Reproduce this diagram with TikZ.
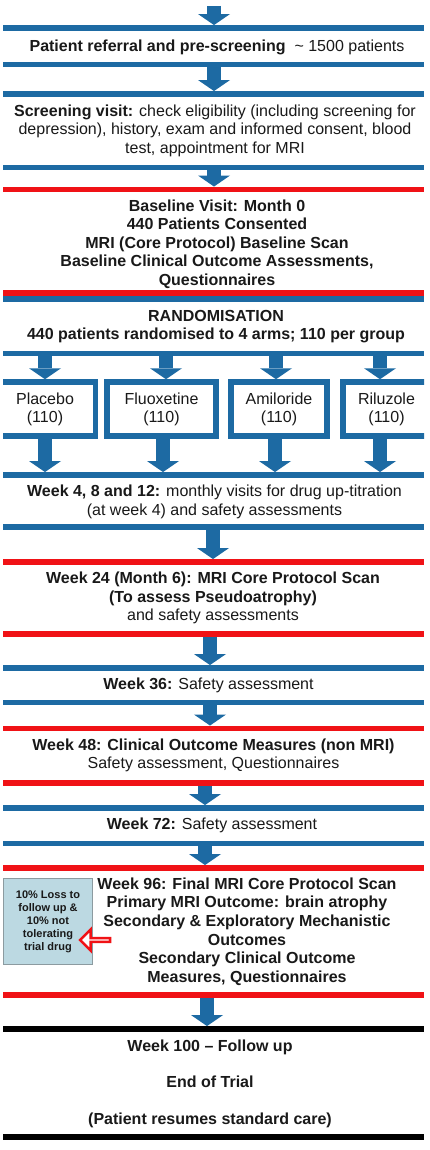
\documentclass[tikz,border=0pt]{standalone}
\usepackage{fontspec}
\setmainfont{Liberation Sans}
\usetikzlibrary{arrows.meta,shapes.arrows}
\definecolor{tblue}{RGB}{29,106,163}
\definecolor{tred}{RGB}{240,18,22}
\definecolor{tink}{RGB}{25,25,25}
\definecolor{lossfill}{RGB}{188,217,226}
\definecolor{lossedge}{RGB}{140,155,160}
\begin{document}
\begin{tikzpicture}[x=1pt,y=-1pt,
  rule/.style={rectangle,inner sep=0pt,minimum width=421pt,minimum height=5.5pt},
  brule/.style={rule,fill=tblue},
  rrule/.style={rule,fill=tred},
  krule/.style={rule,fill=black},
  txt/.style={align=center,text=tink,inner sep=0pt,font=\fontsize{16}{18.6}\selectfont},
  txtb/.style={align=center,text=tink,inner sep=0pt,font=\bfseries\fontsize{16}{18.6}\selectfont},
  barrow/.style={draw=tblue,line width=14pt,-{Triangle[width=32pt,length=11pt,line width=0pt]}},
  arm/.style={draw=tblue,line width=5.5pt,fill=white,rectangle,minimum height=54pt,inner sep=0pt,align=center,text=tink,font=\fontsize{16}{18}\selectfont},
  lossbox/.style={draw=lossedge,fill=lossfill,line width=1.5pt,minimum width=89pt,minimum height=86pt,inner sep=0pt,align=center,text=tink,font=\bfseries\fontsize{11}{13}\selectfont},
  hollowarrow/.style={single arrow,shape border rotate=180,draw=tred,fill=white,line width=2.5pt,minimum height=30pt,minimum width=21pt,single arrow head extend=6pt,inner sep=0pt}
]
\useasboundingbox (0,0) rectangle (429,1150);
\fill[white] (0,0) rectangle (429,1150);

% rules and texts
\coordinate (top) at (214,6);
\node[brule] (b1) at (213.5,28) {};
\node[txt] (t1) at (217,47) {\textbf{Patient referral and pre-screening}\ \ \textasciitilde\ 1500 patients};
\node[brule] (b2) at (213.5,64.5) {};
\node[brule] (b3) at (213.5,94) {};
\node[txt] (t2) at (215,130.5) {\textbf{Screening visit:} check eligibility (including screening for\\ depression), history, exam and informed consent, blood\\ test, appointment for MRI};
\node[brule] (b4) at (213.5,167.5) {};
\node[rrule] (r1) at (213.5,189.5) {};
\node[txtb] (t3) at (217,244) {Baseline Visit: Month 0\\ 440 Patients Consented\\ MRI (Core Protocol) Baseline Scan\\ Baseline Clinical Outcome Assessments,\\ Questionnaires};
\node[rrule] (r2) at (213.5,293) {};
\node[brule] (b5) at (213.5,299) {};
\node[txtb] (t4) at (216,326.5) {RANDOMISATION\\ 440 patients randomised to 4 arms; 110 per group};
\node[brule] (b6) at (213.5,353.5) {};

\begin{scope}
\clip (3,0) rectangle (424,1150);
\node[arm,minimum width=101pt] (placebo) at (45,409) {Placebo\\(110)};
\node[arm,minimum width=109pt] (fluox) at (161.5,409) {Fluoxetine\\(110)};
\node[arm,minimum width=96pt] (amil) at (279,409) {Amiloride\\(110)};
\node[arm,minimum width=87pt] (rilu) at (386.5,409) {Riluzole\\(110)};
\end{scope}

\node[brule] (b7) at (213.5,475) {};
\node[txt] (t5) at (214.5,502) {\textbf{Week 4, 8 and 12:} monthly visits for drug up-titration\\ (at week 4) and safety assessments};
\node[brule] (b8) at (213.5,527) {};
\node[rrule] (r3) at (213.5,562) {};
\node[txt] (t6) at (213,598) {\textbf{Week 24 (Month 6): MRI Core Protocol Scan}\\ \textbf{(To assess Pseudoatrophy)}\\ and safety assessments};
\node[rrule] (r4) at (213.5,634) {};
\node[brule] (b9) at (213.5,668) {};
\node[txt] (t7) at (208.5,685) {\textbf{Week 36:} Safety assessment};
\node[brule] (b10) at (213.5,702.5) {};
\node[rrule] (r5) at (213.5,728.5) {};
\node[txt] (t8) at (213.5,755.5) {\textbf{Week 48: Clinical Outcome Measures (non MRI)}\\ Safety assessment, Questionnaires};
\node[rrule] (r6) at (213.5,783) {};
\node[brule] (b11) at (213.5,808) {};
\node[txt] (t9) at (212,825) {\textbf{Week 72:} Safety assessment};
\node[brule] (b12) at (213.5,843.5) {};
\node[rrule] (r7) at (213.5,868) {};
\node[txtb] (t10) at (247,931.5) {Week 96: Final MRI Core Protocol Scan\\ Primary MRI Outcome: brain atrophy\\ Secondary \& Exploratory Mechanistic\\ Outcomes\\ Secondary Clinical Outcome\\ Measures, Questionnaires};
\node[rrule] (r8) at (213.5,995) {};
\node[krule] (k1) at (213.5,1029) {};
\node[txtb] (t11) at (210,1083.5) {Week 100 – Follow up\\[18pt] End of Trial\\[18pt] (Patient resumes standard care)};
\node[krule] (k2) at (213.5,1137) {};

% side box
\node[lossbox] (loss) at (48,921.5) {10\% Loss to\\ follow up \&\\ 10\% not\\ tolerating\\ trial drug};
\node[hollowarrow] (lossarrow) at (96,940) {};

% arrows
\draw[barrow] (top) -- ([xshift=.5pt]b1.north);
\draw[barrow] ([xshift=.5pt]b2.south) -- ([xshift=.5pt]b3.north);
\draw[barrow] ([xshift=.5pt]b4.south) -- ([xshift=.5pt]r1.north);

\coordinate (ia) at (45,0);
\coordinate (ib) at (166,0);
\coordinate (ic) at (276,0);
\coordinate (id) at (380,0);
\coordinate (oa) at (45,0);
\coordinate (ob) at (163,0);
\coordinate (oc) at (275,0);
\coordinate (od) at (380,0);
\draw[barrow] (b6.south -| ia) -- (placebo.north -| ia);
\draw[barrow] (b6.south -| ib) -- (fluox.north -| ib);
\draw[barrow] (b6.south -| ic) -- (amil.north -| ic);
\draw[barrow] (b6.south -| id) -- (rilu.north -| id);
\draw[barrow] (placebo.south -| oa) -- (b7.north -| oa);
\draw[barrow] (fluox.south -| ob) -- (b7.north -| ob);
\draw[barrow] (amil.south -| oc) -- (b7.north -| oc);
\draw[barrow] (rilu.south -| od) -- (b7.north -| od);

\draw[barrow] ([xshift=-.5pt]b8.south) -- ([xshift=-.5pt]r3.north);
\draw[barrow] ([xshift=-3.5pt]r4.south) -- ([xshift=-3.5pt]b9.north);
\draw[barrow] ([xshift=-3.5pt]b10.south) -- ([xshift=-3.5pt]r5.north);
\draw[barrow] ([xshift=-8.5pt]r6.south) -- ([xshift=-8.5pt]b11.north);
\draw[barrow] ([xshift=-8.5pt]b12.south) -- ([xshift=-8.5pt]r7.north);
\draw[barrow] ([xshift=-6.5pt]r8.south) -- ([xshift=-6.5pt]k1.north);
\end{tikzpicture}
\end{document}
